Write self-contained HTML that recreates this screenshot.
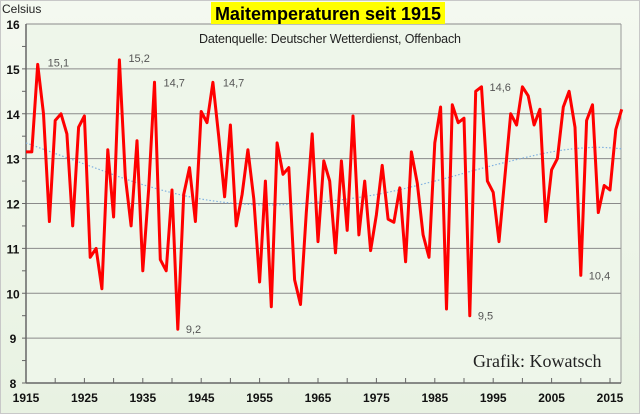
<!DOCTYPE html>
<html><head><meta charset="utf-8">
<style>
html,body{margin:0;padding:0;}
body{width:640px;height:414px;overflow:hidden;background:#f0f6ec;font-family:"Liberation Sans",sans-serif;}
svg{display:block;}
</style></head>
<body>
<svg id="chart" width="640" height="414">
<defs>
<linearGradient id="bg" x1="0" y1="0" x2="0" y2="1">
<stop offset="0" stop-color="#f4f9f0"/><stop offset="1" stop-color="#e8f2e2"/>
</linearGradient>
</defs>
<rect x="0.5" y="0.5" width="639" height="413" fill="url(#bg)" stroke="#c8c8c8"/>
<rect x="26" y="24" width="595" height="359" fill="#eef6ea"/>
<g id="grid"></g>
<g id="axes"></g>
<path id="trend" fill="none" stroke="#7fb0e0" stroke-width="1.2" stroke-dasharray="1.5,2"/>
<polyline id="series" fill="none" stroke="#ff0000" stroke-width="3" stroke-linejoin="round"/>
<g id="labels"></g>
<rect x="211" y="2" width="234" height="22" fill="#ffff00"/>
<text x="328" y="20" text-anchor="middle" font-size="18" font-weight="bold" fill="#000">Maitemperaturen seit 1915</text>
<text x="330" y="43" text-anchor="middle" font-size="12.5" fill="#222" textLength="262">Datenquelle: Deutscher Wetterdienst, Offenbach</text>
<text x="2" y="13" font-size="12" fill="#222">Celsius</text>
<text x="473" y="367" font-family="Liberation Serif,serif" font-size="18" fill="#222">Grafik: Kowatsch</text>
</svg>
<script>
const years = [];
for (let y = 1915; y <= 2017; y++) years.push(y);
const temps = [13.15,13.15,15.1,14.0,11.6,13.85,14.0,13.55,11.5,13.7,13.95,10.8,11.0,10.1,13.2,11.7,15.2,12.6,11.5,13.4,10.5,12.3,14.7,10.75,10.5,12.3,9.2,12.2,12.8,11.6,14.05,13.8,14.7,13.5,12.15,13.75,11.5,12.2,13.2,12.1,10.25,12.5,9.7,13.35,12.65,12.8,10.3,9.75,11.8,13.55,11.15,12.95,12.5,10.9,12.95,11.4,13.95,11.3,12.5,10.95,11.75,12.85,11.65,11.58,12.35,10.7,13.15,12.45,11.3,10.8,13.35,14.15,9.65,14.2,13.8,13.9,9.5,14.5,14.6,12.5,12.25,11.15,12.6,14.0,13.75,14.6,14.4,13.75,14.1,11.6,12.75,13.0,14.15,14.5,13.7,10.4,13.85,14.2,11.8,12.4,12.3,13.65,14.1];
const trendYears = [1915,1925,1935,1945,1955,1965,1975,1985,1995,2005,2012,2017];
const trendVals = [13.35,12.88,12.42,12.1,11.97,12.03,12.2,12.5,12.85,13.15,13.25,13.22];
const yTicks = [8,9,10,11,12,13,14,15,16];
const xTicks = [1915,1925,1935,1945,1955,1965,1975,1985,1995,2005,2015];
const annYears = [1917,1931,1937,1947,1941,1993,1991,2010];
const annTexts = ["15,1","15,2","14,7","14,7","9,2","14,6","9,5","10,4"];
const annDx = [10,9,9,10,8,8,8,8];
const annDy = [2,2,4,4,4,4,4,4];

const NS = "http://www.w3.org/2000/svg";
const X0 = 26, X1 = 610, Y16 = 24, Y8 = 383;
function xs(y){ return X0 + (y - 1915) * (X1 - X0) / 100; }
function ys(v){ return Y8 - (v - 8) * (Y8 - Y16) / 8; }
function mk(tag, attrs, parent){ const e = document.createElementNS(NS, tag); for (const k in attrs) e.setAttribute(k, attrs[k]); parent.appendChild(e); return e; }

const grid = document.getElementById('grid');
const axes = document.getElementById('axes');
yTicks.forEach(v => {
  const l = mk('line', {x1:26, x2:621, y1:ys(v), y2:ys(v), stroke:'#8a8a8a', 'stroke-width':1}, grid);
  
  
  const t = mk('text', {x:13, y:ys(v)+5, 'text-anchor':'middle', 'font-size':12, 'font-weight':'bold', fill:'#111'}, axes);
  t.textContent = v;
  
  
});
for (let v = 8; v < 16; v += 0.5) {
  mk('line', {x1:22, x2:26, y1:ys(v), y2:ys(v), stroke:'#666'}, axes);
}
mk('line', {x1:26, x2:26, y1:24, y2:383, stroke:'#666', 'stroke-width':1.5}, axes);
mk('line', {x1:621, x2:621, y1:24, y2:383, stroke:'#999', 'stroke-width':1}, axes);
mk('line', {x1:26, x2:621, y1:383, y2:383, stroke:'#666', 'stroke-width':1.5}, axes);
for (let y = 1915; y <= 2017; y += 5) mk('line', {x1:xs(y), x2:xs(y), y1:378, y2:383, stroke:'#666'}, axes);
xTicks.forEach(y => {
  const t = mk('text', {x:xs(y), y:402, 'text-anchor':'middle', 'font-size':12, 'font-weight':'bold', fill:'#111'}, axes);
  t.textContent = y;
  
  
});

document.getElementById('series').setAttribute('points', temps.map((v,i) => xs(years[i]).toFixed(1) + ',' + ys(v).toFixed(1)).join(' '));

// smooth trend via Catmull-Rom
const tp = trendYears.map((y,i) => [xs(y), ys(trendVals[i])]);
let d = 'M' + tp[0][0] + ',' + tp[0][1];
for (let i = 0; i < tp.length - 1; i++) {
  const p0 = tp[Math.max(0,i-1)], p1 = tp[i], p2 = tp[i+1], p3 = tp[Math.min(tp.length-1,i+2)];
  const c1 = [p1[0] + (p2[0]-p0[0])/6, p1[1] + (p2[1]-p0[1])/6];
  const c2 = [p2[0] - (p3[0]-p1[0])/6, p2[1] - (p3[1]-p1[1])/6];
  d += ' C' + c1.join(',') + ' ' + c2.join(',') + ' ' + p2.join(',');
}
document.getElementById('trend').setAttribute('d', d);

const labels = document.getElementById('labels');
annYears.forEach((y,i) => {
  const v = temps[y - 1915];
  const t = mk('text', {x:xs(y)+annDx[i], y:ys(v)+annDy[i], 'font-size':11, fill:'#555'}, labels);
  t.textContent = annTexts[i];
  
  
});
</script>
</body></html>
